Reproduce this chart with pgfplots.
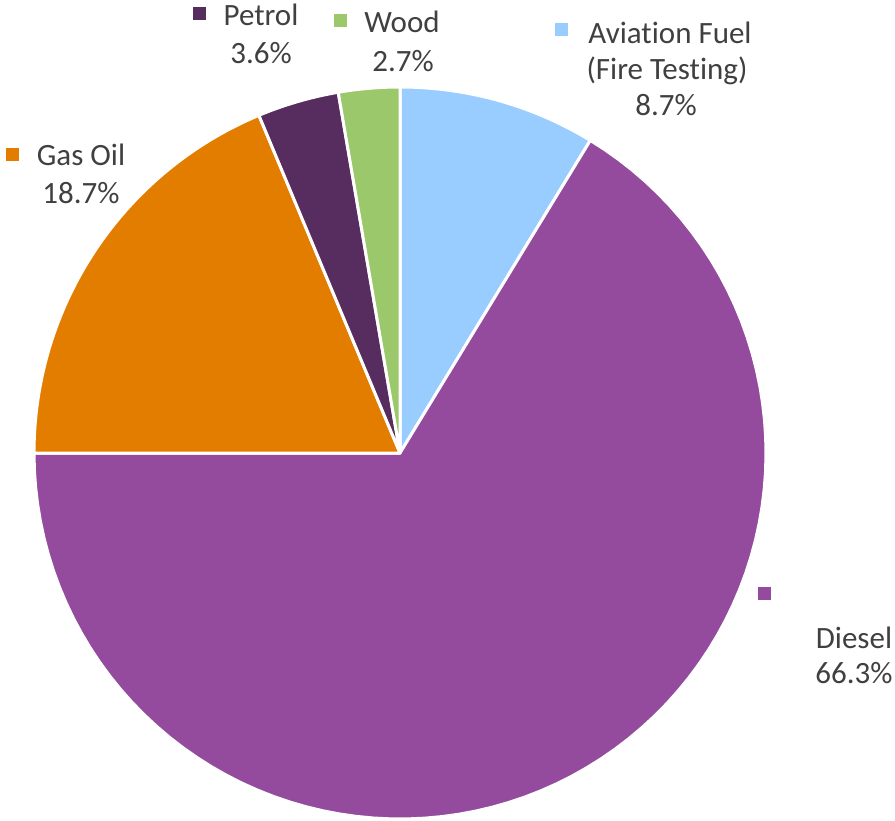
\documentclass[border=0pt]{standalone}
\usepackage{pgfplots}
\pgfplotsset{compat=1.18}
\usepackage{fontspec}
\setmainfont{Carlito}[Ligatures={NoCommon}]
\definecolor{aviation}{HTML}{99CCFF}
\definecolor{diesel}{HTML}{944B9E}
\definecolor{gasoil}{HTML}{E27D00}
\definecolor{petrol}{HTML}{572C5F}
\definecolor{wood}{HTML}{9BC86A}
\definecolor{txt}{HTML}{404040}
% shares in percent, clockwise from 12 o'clock
\def\vAviation{8.7}
\def\vDiesel{66.3}
\def\vGasOil{18.7}
\def\vPetrol{3.6}
\def\vWood{2.7}
\pgfmathsetmacro\aA{90}
\pgfmathsetmacro\aB{\aA-3.6*\vAviation}
\pgfmathsetmacro\aC{\aB-3.6*\vDiesel}
\pgfmathsetmacro\aD{\aC-3.6*\vGasOil}
\pgfmathsetmacro\aE{\aD-3.6*\vPetrol}
\pgfmathsetmacro\aF{\aE-3.6*\vWood}
\newcommand\lbl{\fontsize{15.5}{18}\selectfont}
\begin{document}
\begin{tikzpicture}
\begin{axis}[
  scale only axis, width=447.5pt, height=410pt,
  xmin=0, xmax=895, ymin=0, ymax=820, y dir=reverse,
  hide axis, clip=false,
]
\pgfplotsset{every axis plot/.append style={draw=white, line width=1.5pt, line join=round, samples=90}}
\addplot[fill=aviation, domain=\aB:\aA] ({400+366*cos(x)},{453-366*sin(x)}) -- (axis cs:400,453) -- cycle;
\addplot[fill=diesel, domain=\aC:\aB] ({400+366*cos(x)},{453-366*sin(x)}) -- (axis cs:400,453) -- cycle;
\addplot[fill=gasoil, domain=\aD:\aC] ({400+366*cos(x)},{453-366*sin(x)}) -- (axis cs:400,453) -- cycle;
\addplot[fill=petrol, domain=\aE:\aD] ({400+366*cos(x)},{453-366*sin(x)}) -- (axis cs:400,453) -- cycle;
\addplot[fill=wood, domain=\aF:\aE] ({400+366*cos(x)},{453-366*sin(x)}) -- (axis cs:400,453) -- cycle;
% legend squares
\node[fill=petrol, minimum size=6.5pt, inner sep=0] at (axis cs:199.5,13.5) {};
\node[fill=wood, minimum size=6.5pt, inner sep=0] at (axis cs:340.5,20.5) {};
\node[fill=aviation, minimum size=6.5pt, inner sep=0] at (axis cs:561.5,29) {};
\node[fill=gasoil, minimum size=6.5pt, inner sep=0] at (axis cs:12.5,154.5) {};
\node[fill=diesel, minimum size=6.5pt, inner sep=0] at (axis cs:764,593.5) {};
% labels
\tikzset{lab/.style={anchor=base, inner sep=0, text=txt, font=\lbl}}
\node[lab] at (axis cs:261,25) {Petrol};
\node[lab] at (axis cs:261,63) {3.6\%};
\node[lab] at (axis cs:402,32) {Wood};
\node[lab] at (axis cs:403,71) {2.7\%};
\node[lab] at (axis cs:670,43) {Aviat\kern0pt ion Fuel};
\node[lab] at (axis cs:667,79) {(Fire Testing)};
\node[lab] at (axis cs:666,115) {8.7\%};
\node[lab] at (axis cs:81,165) {Gas Oil};
\node[lab] at (axis cs:81,203) {18.7\%};
\node[lab] at (axis cs:854,648) {Diesel};
\node[lab] at (axis cs:854,683) {66.3\%};
\end{axis}
\pgfresetboundingbox
\path (0,0) rectangle (447.5pt,410pt);
\end{tikzpicture}
\end{document}
